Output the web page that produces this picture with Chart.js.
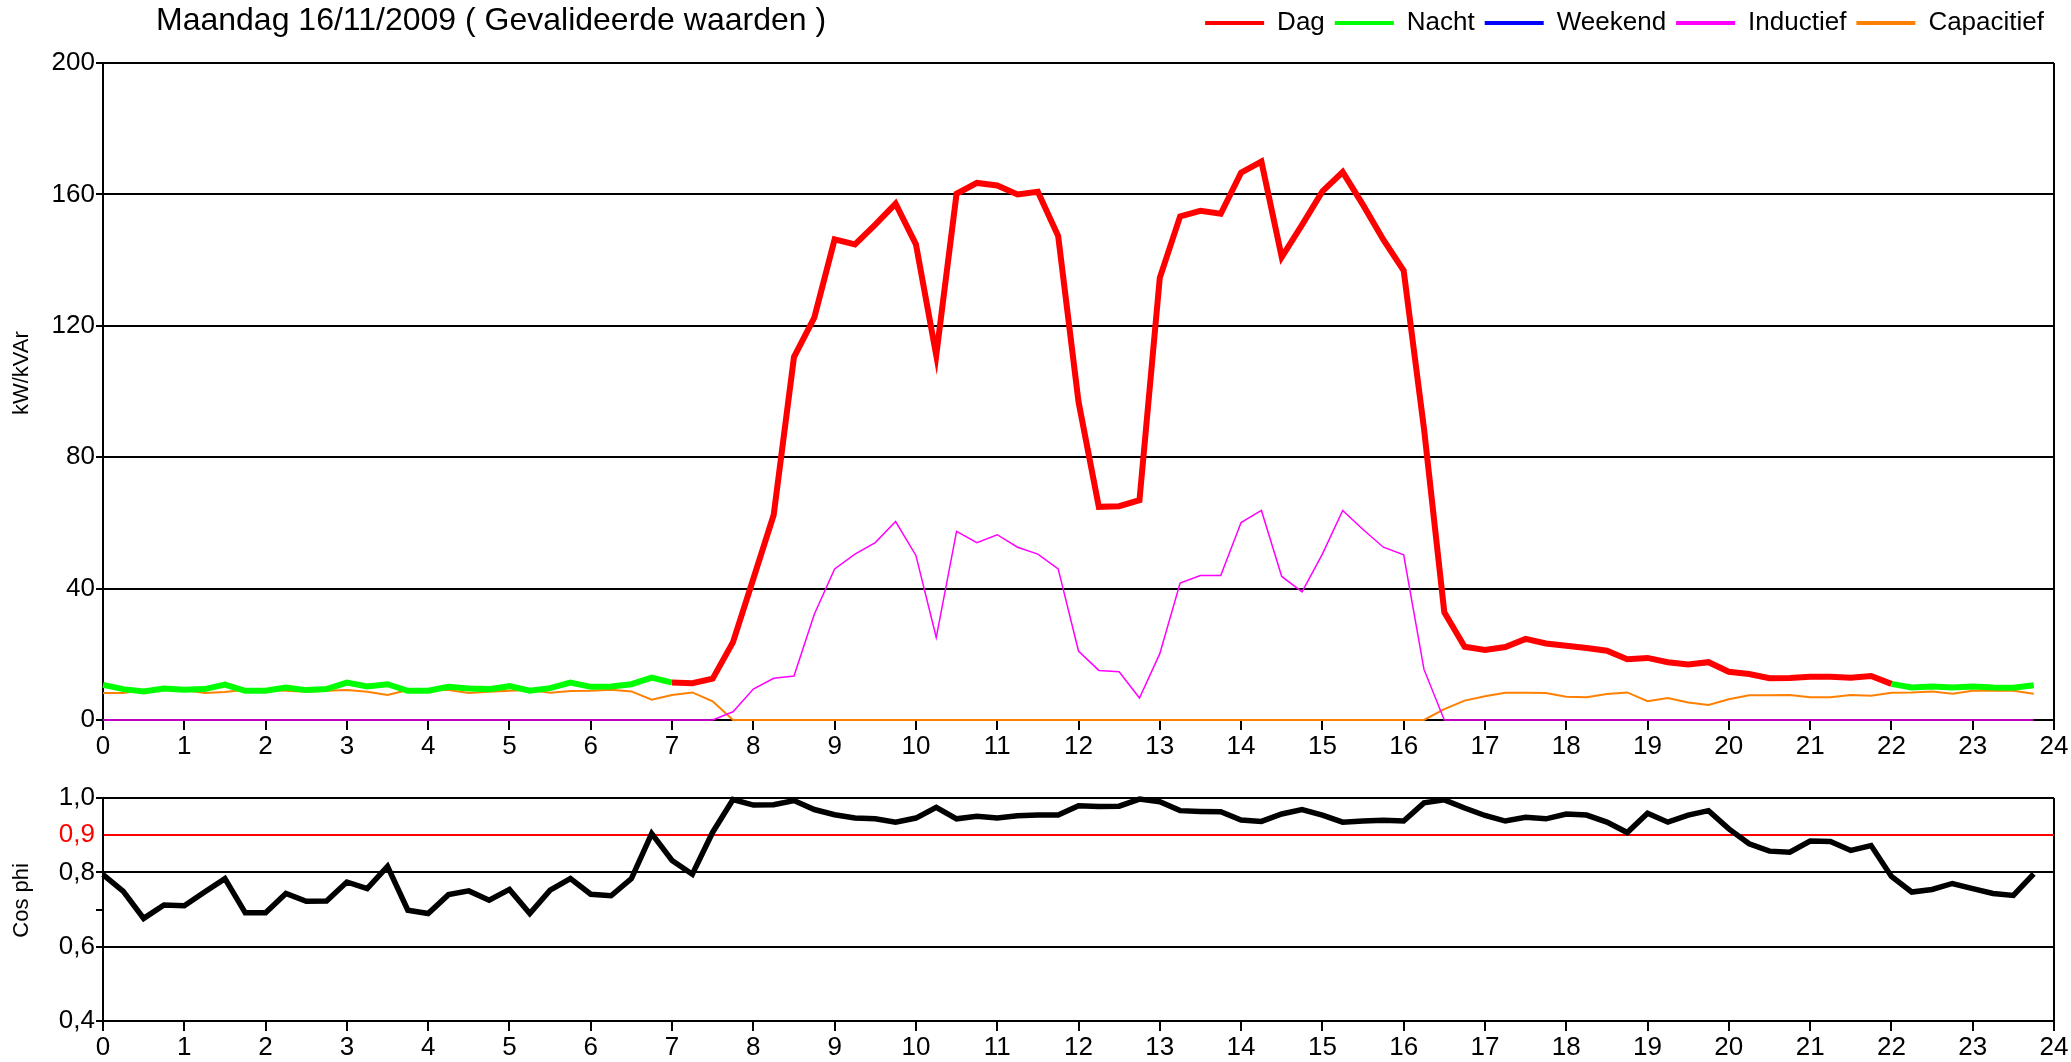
<!DOCTYPE html>
<html>
<head>
<meta charset="utf-8">
<script src="https://cdn.jsdelivr.net/npm/chart.js@4.4.1/dist/chart.umd.min.js"></script>
<style>
  body { margin: 0; background: #fff; }
  #wrap { position: relative; width: 2071px; height: 1062px; }
  #titel { position: absolute; left: 156px; top: 3px; font: 32px 'Liberation Sans', Arial, sans-serif; line-height: 32px; color: #000; white-space: nowrap; }
  #boven { position: absolute; left: 0; top: 0; width: 2071px; height: 760px; }
  #onder { position: absolute; left: 0; top: 760px; width: 2071px; height: 302px; }
</style>
</head>
<body>
<div id="wrap">
  <div id="boven"><canvas id="chartKw"></canvas></div>
  <div id="onder"><canvas id="chartCos"></canvas></div>
  <div id="titel">Maandag 16/11/2009 ( Gevalideerde waarden )</div>
</div>
<script>
// kwartierwaarden 00:00 - 23:45
var tijden = Array.from({length: 96}, function (_, i) { return i / 4; });

// totaal verbruik kW (kleur volgt het tarief)
var verbruik = [
  10.7, 9.4, 8.7, 9.6,   9.2, 9.4, 10.8, 8.9,   8.9, 9.9, 9.1, 9.4,   11.4, 10.2, 10.9, 8.9,
  8.9, 10.1, 9.6, 9.4,   10.3, 8.9, 9.7, 11.4,  10.1, 10.2, 10.9, 12.9, 11.4, 11.2, 12.6, 23.7,
  43, 62.4, 110.5, 122.5, 146.3, 144.8, 150.8, 157.2, 144.8, 111, 160.2, 163.5, 162.7, 160, 160.8, 147.3,
  96.9, 64.9, 65.1, 66.9, 134.6, 153.3, 155, 154.1, 166.6, 170, 140.9, 150.7, 160.9, 166.8, 156.8, 146.2,
  136.8, 88.7, 32.8, 22.3, 21.3, 22.2, 24.7, 23.3, 22.6, 21.9, 21.1, 18.5, 18.9, 17.6, 16.9, 17.6,
  14.7, 14, 12.7, 12.8,  13.2, 13.2, 12.9, 13.4,  11, 9.9, 10.2, 9.9,    10.2, 9.9, 9.8, 10.6
];
var dagVan = 28;  // 07:00
var dagTot = 88;  // 22:00

var inductief = [
  0, 0, 0, 0,  0, 0, 0, 0,  0, 0, 0, 0,  0, 0, 0, 0,
  0, 0, 0, 0,  0, 0, 0, 0,  0, 0, 0, 0,  0, 0, 0, 2.5,
  9.4, 12.7, 13.4, 32.2,  46, 50.5, 54, 60.4,  50.1, 25.1, 57.4, 54,  56.4, 52.6, 50.5, 46,
  21, 15.1, 14.7, 6.7,  20.2, 41.7, 44, 44,  60.1, 63.8, 43.7, 39,  50.5, 63.8, 58, 52.6,
  50.3, 15.4, 0, 0,  0, 0, 0, 0,  0, 0, 0, 0,  0, 0, 0, 0,
  0, 0, 0, 0,  0, 0, 0, 0,  0, 0, 0, 0,  0, 0, 0, 0
];

var capacitief = [
  8.2, 8.2, 9.2, 9.4,  9.1, 8.2, 8.5, 9.2,  9.2, 8.9, 8.6, 8.9,  9.1, 8.6, 7.6, 9.1,
  9.1, 9.1, 8.2, 8.6,  8.9, 9.1, 8.3, 8.8,  8.9, 9.2, 8.7, 6.2,  7.6, 8.4, 5.7, 0,
  0, 0, 0, 0,  0, 0, 0, 0,  0, 0, 0, 0,  0, 0, 0, 0,
  0, 0, 0, 0,  0, 0, 0, 0,  0, 0, 0, 0,  0, 0, 0, 0,
  0, 0, 3.3, 5.9,  7.2, 8.3, 8.3, 8.2,  7.1, 6.9, 7.9, 8.4,  5.7, 6.7, 5.3, 4.6,
  6.3, 7.5, 7.5, 7.6,  6.9, 6.9, 7.6, 7.4,  8.3, 8.4, 8.7, 8.0,  8.9, 8.9, 8.9, 8.0
];

var weekend = []; // maandag: geen weekendwaarden

var cosPhi = [
  0.794, 0.749, 0.676, 0.712,  0.710, 0.747, 0.783, 0.691,  0.691, 0.743, 0.722, 0.723,  0.774, 0.756, 0.816, 0.698,
  0.689, 0.740, 0.750, 0.725,  0.754, 0.689, 0.752, 0.783,  0.741, 0.737, 0.783, 0.904,  0.832, 0.795, 0.908, 0.996,
  0.981, 0.982, 0.993, 0.969,  0.955, 0.946, 0.944, 0.935,  0.946, 0.975, 0.944, 0.951,  0.946, 0.952, 0.954, 0.954,
  0.979, 0.977, 0.978, 0.997,  0.990, 0.966, 0.964, 0.963,  0.941, 0.937, 0.957, 0.969,  0.954, 0.935, 0.938, 0.940,
  0.938, 0.987, 0.995, 0.973,  0.953, 0.938, 0.948, 0.944,  0.957, 0.954, 0.935, 0.907,  0.959, 0.935, 0.954, 0.966,
  0.917, 0.877, 0.857, 0.854,  0.884, 0.883, 0.859, 0.872,  0.789, 0.747, 0.754, 0.770,  0.756, 0.743, 0.738, 0.796
];
var cosTicks = [0.4, 0.6, 0.7, 0.8, 0.9, 1.0];
var cosGrens = 0.9;

var dag = verbruik.map(function (v, i) { return (i >= dagVan && i <= dagTot) ? v : null; });
var nacht = verbruik.map(function (v, i) { return (i <= dagVan || i >= dagTot) ? v : null; });

Chart.defaults.font.family = "'Liberation Sans', Arial, sans-serif";
Chart.defaults.color = '#000';

// extra ruimte onder de legende
var legendSpacer = {
  id: 'legendSpacer',
  beforeInit: function (chart) {
    var fit = chart.legend.fit;
    chart.legend.fit = function () {
      fit.bind(chart.legend)();
      this.height += 17;
    };
  }
};

function lijn(label, data, kleur, dikte) {
  return {
    label: label,
    data: data,
    borderColor: kleur,
    backgroundColor: kleur,
    borderWidth: dikte,
    pointRadius: 0,
    tension: 0,
    spanGaps: false,
    clip: 10
  };
}

function xAs(hoogte) {
  return {
    type: 'linear',
    min: 0,
    max: 24,
    ticks: { stepSize: 1, autoSkip: false, maxRotation: 0, padding: 1, font: { size: 26 } },
    grid: {
      color: function (ctx) { return ctx.tick && ctx.tick.value === 24 ? '#000' : 'rgba(0,0,0,0)'; },
      lineWidth: 2,
      tickColor: '#000',
      tickLength: 10,
      tickWidth: 2
    },
    border: { color: '#000', width: 2 },
    afterFit: function (scale) { scale.height = hoogte; }
  };
}

new Chart(document.getElementById('chartKw'), {
  type: 'line',
  data: {
    labels: tijden,
    datasets: [
      lijn('Dag', dag, '#ff0000', 6),
      lijn('Nacht', nacht, '#00ff00', 6),
      lijn('Weekend', weekend, '#0000ff', 6),
      lijn('Inductief', inductief, '#ff00ff', 1.5),
      lijn('Capacitief', capacitief, '#ff8000', 2)
    ]
  },
  plugins: [legendSpacer],
  options: {
    responsive: true,
    maintainAspectRatio: false,
    animation: false,
    layout: { padding: { top: 0, right: 17, left: 0, bottom: 0 } },
    plugins: {
      tooltip: { enabled: false },
      legend: {
        position: 'top',
        align: 'end',
        labels: {
          boxWidth: 59,
          boxHeight: 4,
          padding: 10,
          font: { size: 26 },
          generateLabels: function (chart) {
            return Chart.defaults.plugins.legend.labels.generateLabels(chart).map(function (l) {
              l.lineWidth = 0;
              l.fillStyle = l.strokeStyle;
              return l;
            });
          }
        }
      }
    },
    scales: {
      x: xAs(40),
      y: {
        min: 0,
        max: 200,
        ticks: { stepSize: 40, padding: 1, font: { size: 26 } },
        grid: { color: '#000', lineWidth: 2, tickLength: 7, tickColor: '#000' },
        border: { color: '#000', width: 2 },
        title: { display: true, text: '      kW/kVAr', font: { size: 22 }, padding: { top: 9, bottom: 0 } },
        afterFit: function (scale) { scale.width = 103; }
      }
    }
  }
});

new Chart(document.getElementById('chartCos'), {
  type: 'line',
  data: {
    labels: tijden,
    datasets: [lijn('Cos phi', cosPhi, '#000', 5.5)]
  },
  options: {
    responsive: true,
    maintainAspectRatio: false,
    animation: false,
    layout: { padding: { top: 38, right: 17, left: 0, bottom: 0 } },
    plugins: { legend: { display: false }, tooltip: { enabled: false } },
    scales: {
      x: xAs(41),
      y: {
        min: 0.4,
        max: 1.0,
        afterBuildTicks: function (scale) {
          scale.ticks = cosTicks.map(function (v) { return { value: v }; });
        },
        ticks: {
          padding: 1,
          font: { size: 26 },
          color: function (ctx) { return ctx.tick.value === cosGrens ? '#ff0000' : '#000'; },
          callback: function (v) { return v === 0.7 ? '' : v.toFixed(1).replace('.', ','); }
        },
        grid: {
          color: function (ctx) {
            if (ctx.tick.value === cosGrens) return '#ff0000';
            if (ctx.tick.value === 0.7) return 'rgba(0,0,0,0)';
            return '#000';
          },
          tickColor: function (ctx) { return ctx.tick.value === cosGrens ? 'rgba(0,0,0,0)' : '#000'; },
          lineWidth: 2,
          tickLength: 7
        },
        border: { color: '#000', width: 2 },
        title: { display: true, text: '   Cos phi', font: { size: 22 }, padding: { top: 9, bottom: 0 } },
        afterFit: function (scale) { scale.width = 103; }
      }
    }
  }
});
</script>
</body>
</html>
